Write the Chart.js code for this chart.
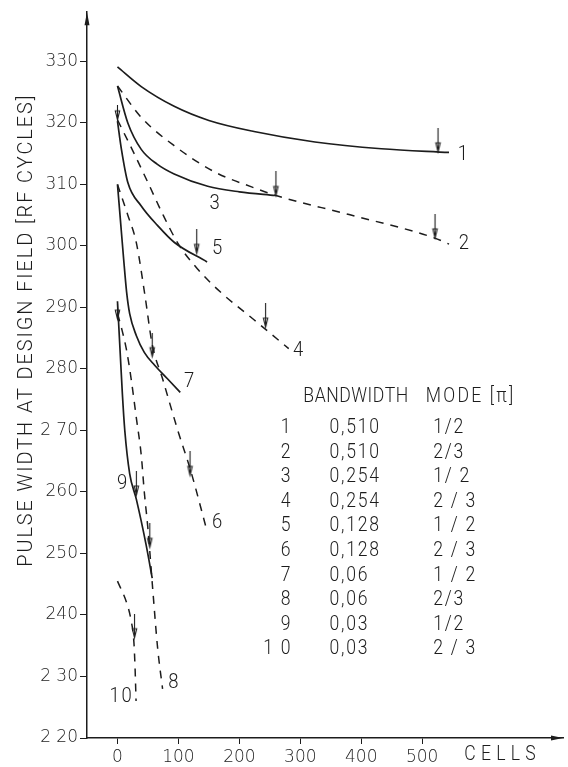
<!DOCTYPE html>
<html>
<head>
<meta charset="utf-8">
<script src="https://cdn.jsdelivr.net/npm/chart.js@4.4.1/dist/chart.umd.min.js"></script>
<style>
  html, body { margin: 0; padding: 0; background: #fff; }
  #wrap { width: 568px; height: 767px; }
</style>
</head>
<body>
<div id="wrap"><canvas id="pulseChart" width="568" height="767"></canvas></div>
<script>
// curves: [cells, pulse width in RF cycles]
const curve1 = [[0, 329.1], [39, 325.9], [93, 322.7], [150, 320.4], [224, 318.6], [324, 316.9], [433, 315.8], [544, 315.2]];
const curve2 = [[0, 326], [40, 320.8], [93, 316.3], [160, 312], [220, 309.6], [260, 308.2], [380, 305.1], [520, 301.3], [544, 300.3]];
const curve3 = [[0, 326], [17, 320], [39, 315.7], [65, 313.3], [93, 311.7], [148, 309.7], [200, 308.8], [259, 308.2]];
const curve4 = [[0, 320.5], [25, 315.5], [50, 310.3], [75, 305], [100, 300.3], [131, 296.3], [169, 292.5], [224, 288], [281, 283.3]];
const curve5 = [[0, 320.3], [6.5, 315.7], [17, 310.3], [39, 306.5], [66, 303.3], [93, 300.6], [147, 297.4]];
const curve6 = [[0, 310], [17, 305], [31, 300.5], [45, 292], [57, 284], [74, 278.4], [99, 270], [120, 263.5], [146, 254]];
const curve7 = [[0, 310], [5, 304], [10, 298], [15, 292.5], [20, 289], [31, 285.4], [44, 282.7], [61, 280.6], [82, 278.4], [103, 276.2]];
const curve8 = [[0, 289], [7, 286.5], [15, 283], [23, 278], [31, 272], [39, 266], [44, 260], [50, 254], [58, 244], [66, 234.5], [74, 228]];
const curve9 = [[0, 291], [4, 283.5], [8, 276], [12, 270], [20, 263], [31, 258.8], [47, 251.4], [57, 246]];
const curve10 = [[0, 245.5], [15, 242], [22, 239.3], [27, 235.5], [29, 231], [30.5, 226]];

const solidCurves = [curve1, curve3, curve5, curve7, curve9];
const dashedCurves = [curve2, curve4, curve6, curve8, curve10];

// design-length arrows (tip positions)
const arrowCells = [526, 521, 260, 130, 243, 57, 119, 31, 53, 28];
const arrowWidth = [315.3, 301.3, 308.2, 298.8, 286.8, 282, 262.7, 259.5, 251, 236.3];
const shortArrowCells = [0, 0];
const shortArrowWidth = [320.5, 288.1];

// curve numbers written next to the lines
const curveNames = ['1', '2', '3', '4', '5', '6', '7', '8', '9', '10'];
const nameCells = [568, 570, 161, 298, 165, 165, 119, 93, 9, 6.5];
const nameWidth = [314.9, 300.3, 306.8, 283, 299.5, 255, 278, 229, 261.4, 226.7];

// table
const rowNumbers = ['1', '2', '3', '4', '5', '6', '7', '8', '9', '1 0'];
const bandwidths = ['0,510', '0,510', '0,254', '0,254', '0,128', '0,128', '0,06', '0,06', '0,03', '0,03'];
const modes = ['1/2', '2/3', '1/ 2', '2 / 3', '1 / 2', '2 / 3', '1 / 2', '2/3', '1/2', '2 / 3'];

const xTicks = [0, 100, 200, 300, 400, 500];
const yTicks = [220, 230, 240, 250, 260, 270, 280, 290, 300, 310, 320, 330];
const yTickLabels = ['2 20', '2 30', '240', '250', '260', '2 70', '280', '290', '300', '310', '320', '330'];

const ink = '#1c1c1c';
const letterFont = "Roboto, 'DejaVu Sans', sans-serif";

function makeArrow(len) {
    const c = document.createElement('canvas');
    c.width = 9;
    c.height = len * 2;
    const g = c.getContext('2d');
    g.strokeStyle = ink;
    g.lineWidth = 1.1;
    g.beginPath();
    g.moveTo(4.5, 0);
    g.lineTo(4.5, len);
    g.stroke();
    g.beginPath();
    g.moveTo(2.3, len - 9);
    g.lineTo(4.5, len);
    g.lineTo(6.7, len - 9);
    g.closePath();
    g.stroke();
    return c;
}

// narrow lettering: squeeze the glyphs sideways
function letter(ctx, text, px, py, align, squeeze) {
    ctx.save();
    ctx.translate(px, py);
    ctx.scale(squeeze, 1);
    ctx.textAlign = align;
    ctx.fillText(text, 0, 0);
    ctx.restore();
}

const toPoints = arr => arr.map(([x, y]) => ({x, y}));

const datasets = [];
solidCurves.forEach(c => datasets.push({
    data: toPoints(c), borderColor: ink, borderWidth: 1.7, pointRadius: 0,
    cubicInterpolationMode: 'monotone', fill: false
}));
dashedCurves.forEach(c => datasets.push({
    data: toPoints(c), borderColor: ink, borderWidth: 1.5, borderDash: [8, 7], pointRadius: 0,
    cubicInterpolationMode: 'monotone', fill: false
}));
datasets.push({
    type: 'scatter',
    data: arrowCells.map((x, i) => ({x, y: arrowWidth[i]})),
    pointStyle: makeArrow(24), showLine: false
});
datasets.push({
    type: 'scatter',
    data: shortArrowCells.map((x, i) => ({x, y: shortArrowWidth[i]})),
    pointStyle: makeArrow(15), showLine: false
});

const paperPlugin = {
    id: 'paper',
    afterDraw(chart) {
        const {ctx, chartArea: a, scales: {x, y}} = chart;
        ctx.save();
        ctx.fillStyle = ink;
        ctx.strokeStyle = ink;
        ctx.textBaseline = 'middle';

        // axis arrowheads
        ctx.beginPath();
        ctx.moveTo(a.left, a.top);
        ctx.lineTo(a.left - 2.5, a.top + 13);
        ctx.lineTo(a.left + 2.5, a.top + 13);
        ctx.closePath();
        ctx.fill();
        ctx.beginPath();
        ctx.moveTo(a.right, a.bottom);
        ctx.lineTo(a.right - 12, a.bottom - 2.5);
        ctx.lineTo(a.right - 12, a.bottom + 2.5);
        ctx.closePath();
        ctx.fill();

        // y axis title
        ctx.save();
        ctx.font = `300 21px ${letterFont}`;
        ctx.letterSpacing = '2px';
        ctx.translate(27, y.getPixelForValue(286.3));
        ctx.rotate(-Math.PI / 2);
        letter(ctx, 'PULSE WIDTH AT DESIGN FIELD [RF CYCLES]', 0, 0, 'center', 0.95);
        ctx.restore();

        // x axis word
        ctx.font = `300 20px ${letterFont}`;
        ctx.letterSpacing = '6px';
        letter(ctx, 'CELLS', x.getPixelForValue(632), a.bottom + 17, 'center', 0.88);

        // curve numbers
        ctx.font = `300 21px ${letterFont}`;
        ctx.letterSpacing = '2px';
        curveNames.forEach((t, i) => {
            letter(ctx, t, x.getPixelForValue(nameCells[i]), y.getPixelForValue(nameWidth[i]), 'center', 0.88);
        });

        // table
        ctx.font = `300 20px ${letterFont}`;
        ctx.letterSpacing = '0.6px';
        letter(ctx, 'BANDWIDTH', x.getPixelForValue(305), y.getPixelForValue(275.4), 'left', 0.88);
        ctx.letterSpacing = '2.5px';
        letter(ctx, 'MODE [π]', x.getPixelForValue(506), y.getPixelForValue(275.4), 'left', 0.88);
        ctx.letterSpacing = '2px';
        rowNumbers.forEach((t, i) => {
            const py = y.getPixelForValue(270.4 - 4 * i);
            letter(ctx, t, x.getPixelForValue(287), py, 'right', 0.88);
            letter(ctx, bandwidths[i], x.getPixelForValue(348), py, 'left', 0.88);
            letter(ctx, modes[i], x.getPixelForValue(518), py, 'left', 0.88);
        });
        ctx.restore();
    }
};

new Chart(document.getElementById('pulseChart'), {
    type: 'line',
    data: {datasets},
    options: {
        responsive: false,
        animation: false,
        layout: {padding: {top: 12, right: 1, left: 0, bottom: 0}},
        plugins: {legend: {display: false}, tooltip: {enabled: false}},
        scales: {
            x: {
                type: 'linear',
                min: -50,
                max: 731,
                grid: {drawOnChartArea: false, drawTicks: true, tickLength: 6, color: ink, tickColor: ink},
                border: {color: ink, width: 1.5},
                ticks: {
                    color: ink, padding: 3, maxRotation: 0, autoSkip: false,
                    font: {family: 'DejaVu Sans', size: 17, weight: 200}
                },
                afterBuildTicks: s => { s.ticks = xTicks.map(v => ({value: v})); },
                afterFit: s => { s.height = 29; }
            },
            y: {
                type: 'linear',
                min: 220,
                max: 338,
                grid: {drawOnChartArea: false, drawTicks: true, tickLength: 7, color: ink, tickColor: ink},
                border: {color: ink, width: 1.5},
                ticks: {
                    color: ink, padding: 2, autoSkip: false,
                    font: {family: 'DejaVu Sans', size: 17, weight: 200},
                    callback: v => yTickLabels[yTicks.indexOf(v)]
                },
                afterBuildTicks: s => { s.ticks = yTicks.map(v => ({value: v})); },
                afterFit: s => { s.width = 87; }
            }
        }
    },
    plugins: [paperPlugin]
});
</script>
</body>
</html>
